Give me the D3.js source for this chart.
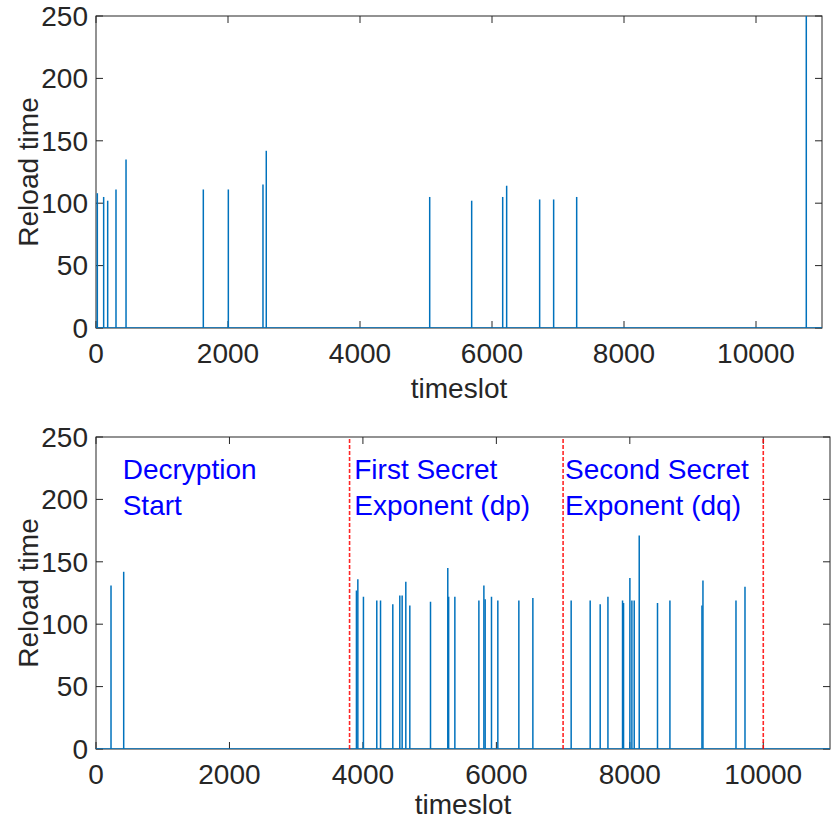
<!DOCTYPE html>
<html>
<head>
<meta charset="utf-8">
<script src="https://cdn.jsdelivr.net/npm/d3@7"></script>
<style>
  html, body { margin: 0; padding: 0; background: #fff; }
  svg { display: block; font-family: "Liberation Sans", Arial, Helvetica, sans-serif; }
</style>
</head>
<body>
<svg id="chart" width="834" height="825"></svg>
<script>
// Reload-time traces: timeslots where a reload spike occurs and its height.
const topSlots  = [20, 116, 177, 303, 455, 1626, 2005, 2530, 2580, 5056, 5692, 6162, 6222, 6722, 6934, 7283, 10762];
const topReload = [108, 105, 102, 111, 135, 111, 111, 115, 142, 105, 102, 105, 114, 103, 103, 105, 250];

const botSlots  = [225, 415, 3903, 3924, 4008, 4208, 4264, 4448, 4553, 4588, 4643, 4703,
                   5013, 5272, 5285, 5378, 5738, 5813, 5832, 5927, 6022, 6337, 6547,
                   7121, 7406, 7556, 7672, 7891, 7906, 8001, 8031, 8066, 8141, 8415, 8601,
                   9081, 9096, 9591, 9726];
const botReload = [131, 142, 127, 136, 122, 119, 119, 116, 123, 123, 134, 115,
                   118, 145, 122, 122, 119, 131, 120, 122, 119, 119, 121,
                   119, 119, 116, 122, 119, 117, 137, 119, 119, 171, 117, 119,
                   115, 135, 119, 130];

// Phase boundaries (red dashed) and phase captions.
const phaseBounds = [3800, 7000, 10000];
const phaseTextSlots = [400, 3870, 7030];
const phaseText = [["Decryption", "Start"], ["First Secret", "Exponent (dp)"], ["Second Secret", "Exponent (dq)"]];

const xTicks = [0, 2000, 4000, 6000, 8000, 10000];
const yTicks = [0, 50, 100, 150, 200, 250];
const xDomain = [0, 11000];
const yDomain = [0, 250];

const AXIS = "#262626";
const LINE = "#0072BD";
const FS = 28;
const LW = 1.5;

const svg = d3.select("#chart");

function panel(opts) {
  const { left, right, top, bottom, slots, values, id, titleGap } = opts;
  const x = d3.scaleLinear().domain(xDomain).range([left, right]);
  const y = d3.scaleLinear().domain(yDomain).range([bottom, top]);
  const g = svg.append("g");

  g.append("clipPath").attr("id", id).append("rect")
    .attr("x", left).attr("y", top).attr("width", right - left).attr("height", bottom - top);

  // axes: box with inward ticks on all four sides
  const tick = 7;
  const ax = g.append("g").attr("stroke", AXIS).attr("stroke-width", 1).attr("fill", "none");
  ax.append("rect").attr("x", left).attr("y", top).attr("width", right - left).attr("height", bottom - top);
  xTicks.forEach(t => {
    ax.append("line").attr("x1", x(t)).attr("x2", x(t)).attr("y1", bottom).attr("y2", bottom - tick);
    ax.append("line").attr("x1", x(t)).attr("x2", x(t)).attr("y1", top).attr("y2", top + tick);
  });
  yTicks.forEach(t => {
    ax.append("line").attr("x1", left).attr("x2", left + tick).attr("y1", y(t)).attr("y2", y(t));
    ax.append("line").attr("x1", right).attr("x2", right - tick).attr("y1", y(t)).attr("y2", y(t));
  });

  const plot = g.append("g").attr("clip-path", `url(#${id})`);

  // baseline of the trace (reload time 0 between spikes)
  plot.append("line")
    .attr("x1", x(xDomain[0])).attr("x2", x(xDomain[1]))
    .attr("y1", y(0)).attr("y2", y(0))
    .attr("stroke", LINE).attr("stroke-width", LW);

  // spikes
  plot.selectAll("line.spike").data(slots.map((s, i) => ({ s, v: values[i] })))
    .enter().append("line").attr("class", "spike")
    .attr("x1", d => x(d.s)).attr("x2", d => x(d.s))
    .attr("y1", y(0)).attr("y2", d => y(d.v))
    .attr("stroke", LINE).attr("stroke-width", LW);

  // tick labels
  g.selectAll("text.xt").data(xTicks).enter().append("text")
    .attr("x", d => x(d)).attr("y", bottom + 35)
    .attr("text-anchor", "middle").attr("font-size", FS).attr("fill", AXIS)
    .text(d => d);
  g.selectAll("text.yt").data(yTicks).enter().append("text")
    .attr("x", left - 8).attr("y", d => y(d)).attr("dy", "0.35em")
    .attr("text-anchor", "end").attr("font-size", FS).attr("fill", AXIS)
    .text(d => d);

  // axis titles
  g.append("text").attr("x", (left + right) / 2).attr("y", bottom + titleGap)
    .attr("text-anchor", "middle").attr("font-size", FS).attr("fill", AXIS).text("timeslot");
  g.append("text")
    .attr("transform", `translate(38,${(top + bottom) / 2}) rotate(-90)`)
    .attr("text-anchor", "middle").attr("font-size", FS).attr("fill", AXIS).text("Reload time");

  return { x, y, g, plot };
}

panel({ id: "clipTop", left: 96, right: 822, top: 16, bottom: 328, slots: topSlots, values: topReload, titleGap: 70 });
const bot = panel({ id: "clipBot", left: 96, right: 830, top: 437, bottom: 749, slots: botSlots, values: botReload, titleGap: 65 });

// phase boundaries
bot.g.selectAll("line.bound").data(phaseBounds).enter().append("line")
  .attr("x1", d => bot.x(d)).attr("x2", d => bot.x(d))
  .attr("y1", bot.y(0)).attr("y2", bot.y(250))
  .attr("stroke", "#ff0000").attr("stroke-width", 1.6).attr("stroke-dasharray", "4,2")
  .attr("stroke-opacity", 0.85);

// phase captions
phaseText.forEach((lines, i) => {
  const t = bot.g.append("text").attr("font-size", FS).attr("fill", "#0000ff");
  lines.forEach((s, j) => {
    t.append("tspan").attr("x", bot.x(phaseTextSlots[i])).attr("y", 479 + j * 36).text(s);
  });
});
</script>
</body>
</html>
